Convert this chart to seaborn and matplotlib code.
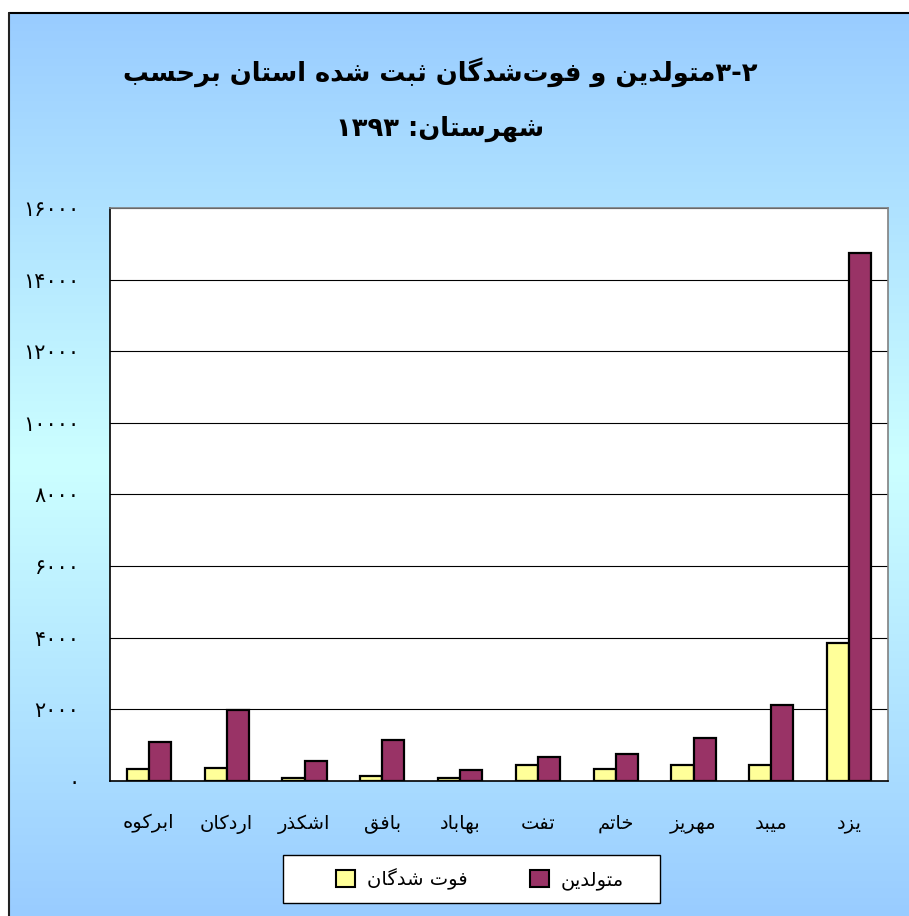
import re

import matplotlib

matplotlib.use("Agg")
import matplotlib.pyplot as plt
import numpy as np
import pandas as pd
import seaborn as sns
from matplotlib.colors import LinearSegmentedColormap
from matplotlib.lines import Line2D
from matplotlib.patches import Patch, Rectangle

sns.set_style("white", {"text.color": "black", "xtick.color": "black", "ytick.color": "black"})
plt.rcParams["font.family"] = ["DejaVu Sans"]

counties = ["ابرکوه", "اردکان", "اشکذر", "بافق", "بهاباد", "تفت", "خاتم", "مهریز", "میبد", "یزد"]
deaths = [330, 360, 90, 150, 80, 460, 330, 440, 460, 3840]
births = [1080, 1970, 560, 1150, 300, 670, 750, 1200, 2110, 14750]
series_names = ["فوت شدگان", "متولدین"]
title_lines = ["۳-۲متولدین و فوت\u200cشدگان ثبت شده استان برحسب", "شهرستان: ۱۳۹۳"]
y_ticks = [0, 2000, 4000, 6000, 8000, 10000, 12000, 14000, 16000]

YELLOW = "#FFFF99"
MAROON = "#993366"

# presentation forms: isolated, final, initial, medial
FORMS = {
    "ا": ("\uFE8D", "\uFE8E", None, None),
    "ب": ("\uFE8F", "\uFE90", "\uFE91", "\uFE92"),
    "ت": ("\uFE95", "\uFE96", "\uFE97", "\uFE98"),
    "ث": ("\uFE99", "\uFE9A", "\uFE9B", "\uFE9C"),
    "ح": ("\uFEA1", "\uFEA2", "\uFEA3", "\uFEA4"),
    "خ": ("\uFEA5", "\uFEA6", "\uFEA7", "\uFEA8"),
    "د": ("\uFEA9", "\uFEAA", None, None),
    "ذ": ("\uFEAB", "\uFEAC", None, None),
    "ر": ("\uFEAD", "\uFEAE", None, None),
    "ز": ("\uFEAF", "\uFEB0", None, None),
    "س": ("\uFEB1", "\uFEB2", "\uFEB3", "\uFEB4"),
    "ش": ("\uFEB5", "\uFEB6", "\uFEB7", "\uFEB8"),
    "ف": ("\uFED1", "\uFED2", "\uFED3", "\uFED4"),
    "ق": ("\uFED5", "\uFED6", "\uFED7", "\uFED8"),
    "ل": ("\uFEDD", "\uFEDE", "\uFEDF", "\uFEE0"),
    "م": ("\uFEE1", "\uFEE2", "\uFEE3", "\uFEE4"),
    "ن": ("\uFEE5", "\uFEE6", "\uFEE7", "\uFEE8"),
    "ه": ("\uFEE9", "\uFEEA", "\uFEEB", "\uFEEC"),
    "و": ("\uFEED", "\uFEEE", None, None),
    "ک": ("\uFB8E", "\uFB8F", "\uFB90", "\uFB91"),
    "گ": ("\uFB92", "\uFB93", "\uFB94", "\uFB95"),
    "ی": ("\uFBFC", "\uFBFD", "\uFBFE", "\uFBFF"),
}


def fa(text):
    # crude arabic shaping + rtl reordering, matplotlib does neither
    out = []
    for i, ch in enumerate(text):
        if ch not in FORMS:
            out.append(ch)
            continue
        f = FORMS[ch]
        prev = text[i - 1] if i > 0 else ""
        nxt = text[i + 1] if i + 1 < len(text) else ""
        jp = prev in FORMS and FORMS[prev][2] is not None
        jn = f[2] is not None and nxt in FORMS
        out.append(f[3] if jp and jn else f[1] if jp else f[2] if jn else f[0])
    s = "".join(c for c in out if c != "\u200c")[::-1]
    return re.sub(r"[۰-۹0-9][۰-۹0-9\-]*", lambda m: m.group(0)[::-1], s)


def fa_num(v):
    return str(v).translate(str.maketrans("0123456789", "۰۱۲۳۴۵۶۷۸۹"))


df = pd.DataFrame({
    "county": counties * 2,
    "series": [series_names[0]] * len(counties) + [series_names[1]] * len(counties),
    "value": deaths + births,
})

W, H = 909, 916
fig = plt.figure(figsize=(W / 100, H / 100), dpi=100)

# blue gradient background with black top/left edge
x0, y1 = 9 / W, 1 - 13 / H
bg = fig.add_axes([x0, 0, 1 - x0, y1], zorder=-10)
cmap = LinearSegmentedColormap.from_list("bg", ["#99CCFF", "#CCFFFF", "#99CCFF"])
bg.imshow(np.linspace(0, 1, 256).reshape(-1, 1), aspect="auto", cmap=cmap, extent=[0, 1, 0, 1])
bg.axis("off")
fig.add_artist(Line2D([x0, 1], [y1, y1], transform=fig.transFigure, color="black", lw=1.5))
fig.add_artist(Line2D([x0, x0], [0, y1], transform=fig.transFigure, color="#222222", lw=1.5))

ax = fig.add_axes([110 / W, 1 - 781 / H, 778 / W, 573 / H])
ax.set_facecolor("white")
sns.barplot(
    data=df, x="county", y="value", hue="series", order=counties, hue_order=series_names,
    palette=[YELLOW, MAROON], width=0.57, saturation=1, edgecolor="black", linewidth=1.6,
    errorbar=None, legend=False, ax=ax,
)
ax.set_xlim(-0.5, len(counties) - 0.5)
ax.set_ylim(0, 16000)
ax.set_yticks(y_ticks, [fa_num(v) for v in y_ticks])
ax.set_xticks(range(len(counties)), [fa(c) for c in counties])
ax.set_xticks(np.arange(-0.5, len(counties), 1), minor=True)
ax.tick_params(axis="x", which="major", length=0, pad=24, labelsize=14, labelcolor="black")
ax.tick_params(axis="x", which="minor", length=8, width=1, color="black", direction="out")
ax.tick_params(axis="y", length=10, width=1, color="black", direction="out", pad=12, labelsize=15,
               labelcolor="black")
ax.yaxis.grid(True, color="black", lw=0.8)
ax.set_axisbelow(True)
ax.set_xlabel("")
ax.set_ylabel("")
for side in ["left", "bottom"]:
    ax.spines[side].set_color("black")
    ax.spines[side].set_linewidth(1.2)
for side in ["top", "right"]:
    ax.spines[side].set_color("#808080")
    ax.spines[side].set_linewidth(1.2)

fig.text(440 / W, 1 - 72 / H, fa(title_lines[0]), ha="center", va="center", fontsize=18.5,
         fontweight="bold", color="black")
fig.text(440 / W, 1 - 129 / H, fa(title_lines[1]), ha="center", va="center", fontsize=18.5,
         fontweight="bold", color="black")

fig.add_artist(Rectangle((283 / W, 1 - 903 / H), 377 / W, 48 / H, transform=fig.transFigure,
                         facecolor="white", edgecolor="black", lw=1))
handles = [Patch(facecolor=YELLOW, edgecolor="black", lw=1.5), Patch(facecolor=MAROON, edgecolor="black", lw=1.5)]
fig.legend(handles, [fa(s) for s in series_names], loc="center", bbox_to_anchor=(480 / W, 1 - 879 / H),
           ncol=2, frameon=False, fontsize=14, handlelength=1.0, handleheight=1.0,
           handletextpad=0.6, columnspacing=3.2, labelcolor="black")

fig.savefig("out.png", dpi=100)
plt.close(fig)
